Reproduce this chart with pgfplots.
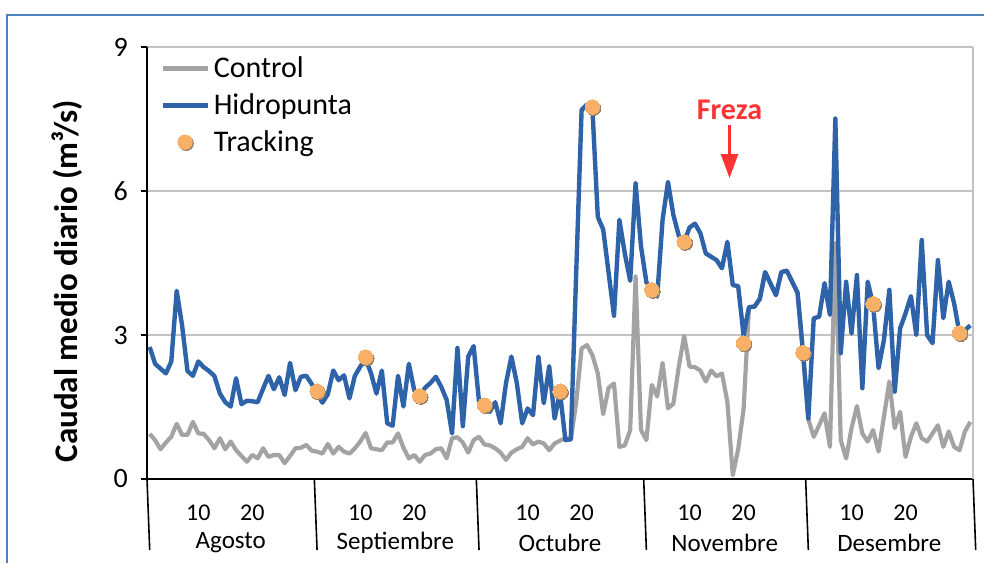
\documentclass[border=0pt]{standalone}
\usepackage{pgfplots}
\usepackage{pgfplotstable}
\pgfplotsset{compat=1.18}
\usepackage{fontspec}
\setmainfont{Carlito}
\usetikzlibrary{arrows.meta}
\definecolor{blueL}{RGB}{46,99,170}
\definecolor{grayL}{RGB}{163,163,163}
\definecolor{orangeM}{RGB}{247,176,102}
\definecolor{shadowM}{RGB}{150,130,110}
\definecolor{frameB}{RGB}{79,129,189}
\definecolor{frezaR}{RGB}{255,51,51}
\definecolor{gridG}{RGB}{195,195,195}
\pgfplotsset{
  lineleg/.style={legend image code/.code={\draw[##1] (0pt,0pt) -- (22.5pt,0pt);}},
  dotleg/.style={legend image code/.code={\fill[shadowM] (11.85pt,-0.6pt) circle (3.6pt); \fill[orangeM] (11.25pt,0pt) circle (3.6pt);}},
}

\pgfplotstableread{
x control hidro
0 0.94 2.75
1 0.81 2.40
2 0.62 2.30
3 0.76 2.20
4 0.88 2.45
5 1.15 3.92
6 0.92 3.20
7 0.92 2.25
8 1.19 2.15
9 0.95 2.45
10 0.94 2.33
11 0.81 2.25
12 0.64 2.14
13 0.85 1.78
14 0.62 1.60
15 0.78 1.51
16 0.60 2.10
17 0.48 1.56
18 0.36 1.63
19 0.50 1.62
20 0.43 1.60
21 0.64 1.88
22 0.46 2.15
23 0.50 1.87
24 0.50 2.12
25 0.33 1.75
26 0.48 2.42
27 0.64 1.85
28 0.65 2.13
29 0.71 2.15
30 0.59 1.98
31 0.57 1.78
32 0.53 1.59
33 0.73 1.77
34 0.53 2.26
35 0.67 2.06
36 0.57 2.16
37 0.53 1.68
38 0.64 2.15
39 0.78 2.34
40 0.96 2.51
41 0.64 2.20
42 0.62 1.78
43 0.60 2.26
44 0.76 1.16
45 0.76 1.11
46 0.95 2.15
47 0.65 1.51
48 0.43 2.40
49 0.50 1.85
50 0.36 1.73
51 0.50 1.90
52 0.53 2.00
53 0.62 2.13
54 0.64 1.92
55 0.43 1.65
56 0.85 0.95
57 0.87 2.73
58 0.76 1.10
59 0.55 2.55
60 0.81 2.77
61 0.88 1.61
62 0.72 1.54
63 0.70 1.40
64 0.64 1.60
65 0.55 1.16
66 0.40 2.00
67 0.55 2.55
68 0.62 2.00
69 0.67 1.16
70 0.85 1.47
71 0.72 1.33
72 0.78 2.55
73 0.74 1.58
74 0.60 2.35
75 0.74 1.26
76 0.80 1.80
77 0.85 0.81
78 0.82 0.83
79 1.60 4.30
80 2.72 7.69
81 2.79 7.80
82 2.58 7.72
83 2.20 5.46
84 1.35 5.20
85 1.90 4.30
86 1.99 3.40
87 0.67 5.40
88 0.70 4.70
89 1.02 4.13
90 4.22 6.16
91 1.02 4.85
92 0.81 4.10
93 1.96 3.94
94 1.72 3.80
95 2.42 5.40
96 1.47 6.19
97 1.57 5.50
98 2.34 5.07
99 2.98 4.94
100 2.34 5.24
101 2.33 5.32
102 2.26 5.12
103 2.03 4.70
104 2.26 4.63
105 2.14 4.56
106 2.20 4.39
107 1.61 4.94
108 0.08 4.04
109 0.62 4.02
110 1.45 3.00
111 3.58 3.58
112 3.59 3.59
113 3.75 3.75
114 4.31 4.31
115 4.07 4.07
116 3.83 3.83
117 4.31 4.31
118 4.34 4.34
119 4.11 4.11
120 3.88 3.88
121 2.65 2.65
122 1.24 1.26
123 0.88 3.35
124 1.12 3.38
125 1.37 4.08
126 0.67 3.42
127 4.91 7.51
128 0.81 2.62
129 0.43 4.11
130 1.06 3.03
131 1.52 4.25
132 0.95 1.89
133 0.78 4.11
134 1.02 3.62
135 0.57 2.31
136 1.30 2.90
137 2.03 3.94
138 1.06 1.82
139 1.40 3.14
140 0.46 3.45
141 0.88 3.81
142 1.16 3.00
143 0.85 4.98
144 0.78 3.00
145 0.95 2.83
146 1.12 4.56
147 0.67 3.35
148 0.99 4.11
149 0.67 3.66
150 0.60 3.03
151 0.99 3.10
152 1.19 3.20
}\caudal

\pgfplotstableread{
x y
31 1.83
40 2.54
50 1.73
62 1.54
76 1.83
82 7.75
93 3.94
99 4.94
110 2.83
121 2.63
134 3.65
150 3.04
}\tracking

\begin{document}
\begin{tikzpicture}
\path[use as bounding box] (0,0) rectangle (492pt,281.5pt);
\draw[frameB, line width=1.3pt] (3.5pt,0pt) -- (3.5pt,274pt) -- (492pt,274pt);
\begin{axis}[
  at={(73.5pt,42pt)}, anchor=south west,
  scale only axis, width=413pt, height=216pt,
  xmin=-0.5, xmax=152.5, ymin=0, ymax=9,
  clip=false,
  axis x line*=bottom, axis y line*=left,
  axis line style={black, line width=0.8pt},
  ytick={0,3,6,9},
  ymajorgrids, major grid style={gridG, line width=0.7pt},
  tick align=outside, major tick length=3pt,
  ytick style={black, line width=0.8pt},
  xtick style={draw=none},
  xtick={9,19,39,49,70,80,100,110,130,140},
  xticklabels={10,20,10,20,10,20,10,20,10,20},
  xticklabel style={font=\fontsize{12}{14}\selectfont, anchor=center, yshift=-14pt},
  yticklabel style={font=\fontsize{14}{16}\selectfont, xshift=-3pt},
  /pgf/number format/assume math mode=true,
  every axis y label/.style={at={(axis description cs:-0.0969,0.458)}, anchor=center, rotate=90},
  ylabel={\fontsize{16.5}{18}\selectfont\bfseries Caudal medio diario (m³/s)},
  legend style={at={(axis description cs:0.0157,0.988)}, anchor=north west, draw=none, fill=none,
    font=\fontsize{15}{18}\selectfont, row sep=2.5pt, inner sep=0pt,
    nodes={inner sep=2pt}},
  legend cell align=left,
]
\addplot[grayL, line width=2.1pt, line join=round, lineleg] table[x=x, y=control] {\caudal};
\addlegendentry{Control}
\addplot[blueL, line width=2.2pt, line join=round, lineleg] table[x=x, y=hidro] {\caudal};
\addlegendentry{Hidropunta}
\addplot[shadowM, only marks, mark=*, mark size=3.6pt, mark options={fill=shadowM, draw=shadowM, line width=0pt, xshift=0.6pt, yshift=-0.6pt}, forget plot] table[x=x, y=y] {\tracking};
\addplot[orangeM, only marks, mark=*, mark size=3.6pt, mark options={fill=orangeM, draw=orangeM, line width=0pt}, dotleg] table[x=x, y=y] {\tracking};
\addlegendentry{Tracking}
% plot area right border
\draw[gridG, line width=0.7pt] (rel axis cs:1,0) -- (rel axis cs:1,1);
% month separators
\draw[black, line width=0.8pt] (axis cs:-0.5,0) -- ++(0,-35.5pt);
\draw[black, line width=0.8pt] (axis cs:30.5,0) -- ++(0,-35.5pt);
\draw[black, line width=0.8pt] (axis cs:60.5,0) -- ++(0,-35.5pt);
\draw[black, line width=0.8pt] (axis cs:91.5,0) -- ++(0,-35.5pt);
\draw[black, line width=0.8pt] (axis cs:121.5,0) -- ++(0,-35.5pt);
\draw[black, line width=0.8pt] (axis cs:152.5,0) -- ++(0,-35.5pt);
\node[font=\fontsize{12.5}{14}\selectfont] at (axis cs:15,0) [yshift=-32pt] {Agosto};
\node[font=\fontsize{12.5}{14}\selectfont] at (axis cs:45.5,0) [yshift=-32pt] {Septiembre};
\node[font=\fontsize{12.5}{14}\selectfont] at (axis cs:76,0) [yshift=-32pt] {Octubre};
\node[font=\fontsize{12.5}{14}\selectfont] at (axis cs:106.5,0) [yshift=-32pt] {Novembre};
\node[font=\fontsize{12.5}{14}\selectfont] at (axis cs:137,0) [yshift=-32pt] {Desembre};
% Freza annotation
\node[text=frezaR, font=\fontsize{15}{18}\selectfont\bfseries] at (axis cs:107.4,7.69) {Freza};
\draw[frezaR, line width=1.2pt, -{Triangle[length=12pt,width=8.5pt]}] (axis cs:107.4,7.37) -- (axis cs:107.4,6.27);
\end{axis}
\end{tikzpicture}
\end{document}
